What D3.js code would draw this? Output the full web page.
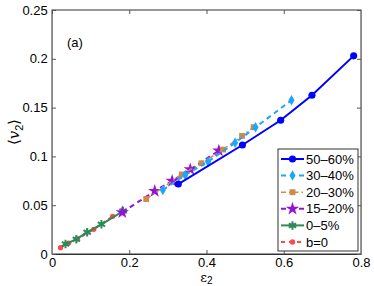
<!DOCTYPE html>
<html>
<head>
<meta charset="utf-8">
<script src="https://cdn.jsdelivr.net/npm/d3@7"></script>
<style>
  body { margin: 0; background: #fff; }
  svg { display: block; font-family: "Liberation Sans", Arial, sans-serif; }
</style>
</head>
<body>
<svg></svg>
<script>
var W = 374, H = 286;
var margin = {top: 10, right: 13, bottom: 32, left: 52},
    width = W - margin.left - margin.right,
    height = H - margin.top - margin.bottom;

// data
var names = ["50\u201360%", "30\u201340%", "20\u201330%", "15\u201320%", "0\u20135%", "b=0"];

var x5060 = [0.327, 0.493, 0.592, 0.673, 0.781];
var y5060 = [0.0717, 0.1117, 0.137, 0.1626, 0.203];

var x3040 = [0.287, 0.345, 0.404, 0.474, 0.527, 0.620];
var y3040 = [0.0656, 0.0810, 0.0946, 0.1140, 0.1298, 0.1575];

var x2030 = [0.244, 0.336, 0.387, 0.443, 0.492, 0.522];
var y2030 = [0.0563, 0.0815, 0.0930, 0.1070, 0.1210, 0.1300];

var x1520 = [0.182, 0.266, 0.311, 0.358, 0.432];
var y1520 = [0.0427, 0.0645, 0.0748, 0.0867, 0.1059];

var x005 = [0.035, 0.063, 0.091, 0.128, 0.184];
var y005 = [0.0102, 0.0152, 0.0222, 0.0304, 0.0440];

var xb0 = [0.022, 0.043, 0.066, 0.108, 0.157];
var yb0 = [0.0065, 0.0112, 0.0155, 0.0253, 0.0386];

var xTicks = [0, 0.2, 0.4, 0.6, 0.8];
var yTicks = [0, 0.05, 0.1, 0.15, 0.2, 0.25];
var xTickLabels = ["0", "0.2", "0.4", "0.6", "0.8"];
var yTickLabels = ["0", "0.05", "0.1", "0.15", "0.2", "0.25"];

var series = [
  {name: names[0], xs: x5060, ys: y5060, color: "#0000ff", dash: null, w: 2, sym: "circle"},
  {name: names[1], xs: x3040, ys: y3040, color: "#1aa6ff", dash: "5,4", w: 2, sym: "diamond"},
  {name: names[2], xs: x2030, ys: y2030, color: "#cd8a4a", dash: "5,3,1.5,3", w: 1.5, sym: "square"},
  {name: names[3], xs: x1520, ys: y1520, color: "#9414d6", dash: "5,4", w: 2, sym: "star"},
  {name: names[4], xs: x005, ys: y005, color: "#2e8b57", dash: null, w: 2, sym: "asterisk"},
  {name: names[5], xs: xb0, ys: yb0, color: "#ff4a4a", dash: "4,4", w: 2, sym: "dot"}
];

var svg = d3.select("svg")
    .attr("width", W)
    .attr("height", H);

var g = svg.append("g")
    .attr("transform", "translate(" + margin.left + "," + margin.top + ")");

var x = d3.scaleLinear().domain([0, 0.8]).range([0, width]);
var y = d3.scaleLinear().domain([0, 0.25]).range([height, 0]);

// box
g.append("rect")
    .attr("width", width).attr("height", height)
    .attr("fill", "none").attr("stroke", "#333").attr("stroke-width", 1);

// axes with inward ticks, labels bottom/left
var xAxis = d3.axisBottom(x).tickValues(xTicks).tickSize(-4)
    .tickFormat(function(d, i) { return xTickLabels[i]; });
var yAxis = d3.axisLeft(y).tickValues(yTicks).tickSize(-4)
    .tickFormat(function(d, i) { return yTickLabels[i]; });

g.append("g").attr("transform", "translate(0," + height + ")").call(xAxis)
    .call(function(s) {
      s.select(".domain").attr("stroke", "#333");
      s.selectAll("text").attr("font-size", 13).attr("fill", "#000").attr("y", 3).attr("dy", "0.75em");
      s.selectAll("line").attr("stroke", "#555");
    });
g.append("g").call(yAxis)
    .call(function(s) {
      s.select(".domain").attr("stroke", "#888");
      s.selectAll("text").attr("font-size", 13).attr("fill", "#000").attr("dx", "-0.1em");
      s.selectAll("line").attr("stroke", "#555");
    });
// mirrored ticks top/right
g.append("g").call(d3.axisTop(x).tickValues(xTicks).tickSize(-4).tickFormat(""))
    .call(function(s) { s.select(".domain").remove(); s.selectAll("line").attr("stroke", "#555"); });
g.append("g").attr("transform", "translate(" + width + ",0)")
    .call(d3.axisRight(y).tickValues(yTicks).tickSize(-4).tickFormat(""))
    .call(function(s) { s.select(".domain").attr("stroke", "#888"); s.selectAll("line").attr("stroke", "#555"); });

// markers
function drawMarker(sel, sym, color) {
  if (sym === "circle") {
    sel.append("path").attr("d", d3.symbol(d3.symbolCircle, 40)()).attr("fill", color);
  } else if (sym === "diamond") {
    sel.append("path").attr("d", d3.symbol(d3.symbolDiamond, 32)()).attr("fill", color);
  } else if (sym === "square") {
    sel.append("path").attr("d", d3.symbol(d3.symbolSquare, 34)()).attr("fill", color);
  } else if (sym === "star") {
    sel.append("path").attr("d", d3.symbol(d3.symbolStar, 55)()).attr("fill", color);
  } else if (sym === "asterisk") {
    sel.append("path").attr("d", d3.symbol(d3.symbolAsterisk, 50)())
      .attr("fill", "none").attr("stroke", color).attr("stroke-width", 2);
    sel.append("path").attr("d", d3.symbol(d3.symbolCircle, 14)()).attr("fill", color);
  } else if (sym === "dot") {
    sel.append("path").attr("d", d3.symbol(d3.symbolCircle, 22)()).attr("fill", color);
  }
}

var line = d3.line().x(function(d) { return x(d[0]); }).y(function(d) { return y(d[1]); });

// draw in reverse so 50-60% ends on top like the figure
series.slice().reverse().forEach(function(s) {
  var pts = s.xs.map(function(v, i) { return [v, s.ys[i]]; });
  g.append("path").datum(pts)
      .attr("d", line)
      .attr("fill", "none")
      .attr("stroke", s.color)
      .attr("stroke-width", s.w)
      .attr("stroke-dasharray", s.dash);
  g.selectAll(null).data(pts).join("g")
      .attr("transform", function(d) { return "translate(" + x(d[0]) + "," + y(d[1]) + ")"; })
      .each(function() { drawMarker(d3.select(this), s.sym, s.color); });
});

// panel label
g.append("text").attr("x", 15).attr("y", 37).attr("font-size", 13).text("(a)");

// axis labels
svg.append("text")
    .attr("x", margin.left + x(0.4)).attr("y", 282)
    .attr("text-anchor", "middle").attr("font-size", 13)
    .attr("font-family", "'DejaVu Serif', serif")
    .html("\u03b5<tspan font-size='10' dy='2' font-family='Liberation Sans, Arial, sans-serif'>2</tspan>");

svg.append("text")
    .attr("transform", "translate(19," + (margin.top + height / 2) + ") rotate(-90)")
    .attr("text-anchor", "middle").attr("font-size", 15)
    .html("\u27e8<tspan font-style='italic' font-family='DejaVu Serif, serif'>v</tspan><tspan font-size='11' dy='4'>2</tspan><tspan dy='-4'>\u27e9</tspan>");

// legend
var lx = 278 - margin.left, ly = 149 - margin.top, lw = 80, lh = 102;
var leg = g.append("g");
leg.append("rect").attr("x", lx).attr("y", ly).attr("width", lw).attr("height", lh)
    .attr("fill", "#fff").attr("stroke", "#333");
series.forEach(function(s, i) {
  var cy = ly + 10 + i * 16.6;
  var row = leg.append("g").attr("transform", "translate(" + (lx + 3) + "," + cy + ")");
  row.append("line").attr("x1", 0).attr("x2", 23).attr("y1", 0).attr("y2", 0)
      .attr("stroke", s.color).attr("stroke-width", s.w).attr("stroke-dasharray", s.dash);
  var m = row.append("g").attr("transform", "translate(11.5,0)");
  drawMarker(m, s.sym, s.color);
  row.append("text").attr("x", 25).attr("y", 4.5).attr("font-size", 13).text(s.name);
});
</script>
</body>
</html>
